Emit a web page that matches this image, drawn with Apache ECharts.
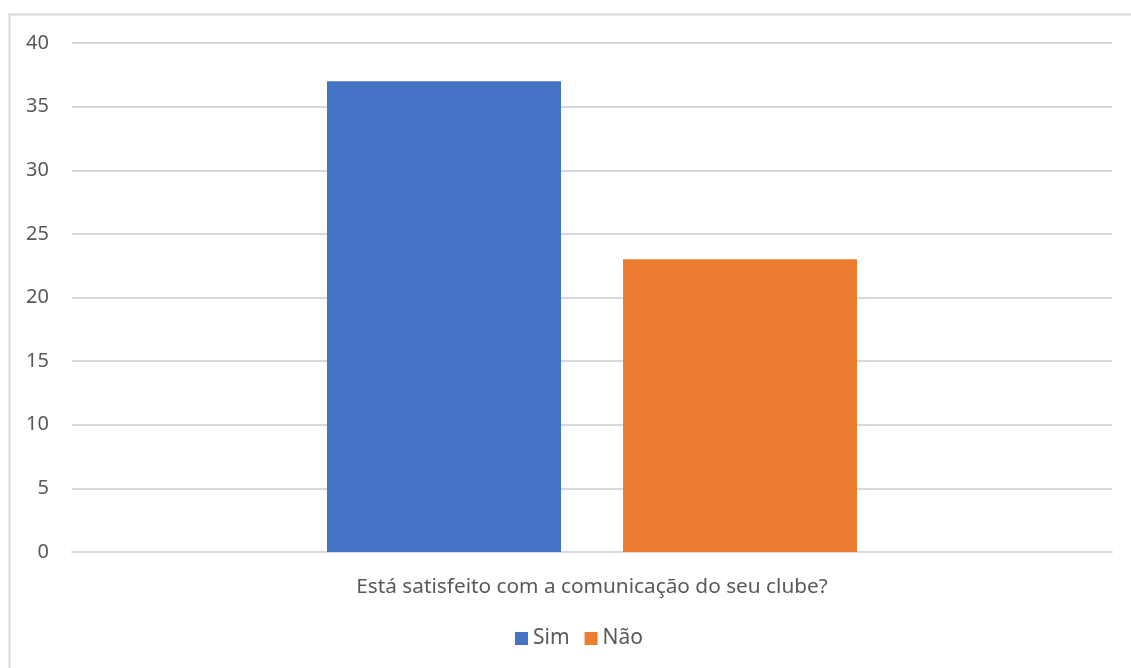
<!DOCTYPE html>
<html>
<head>
<meta charset="utf-8">
<script src="https://cdn.jsdelivr.net/npm/echarts@6/dist/echarts.min.js"></script>
<style>
  html, body { margin: 0; padding: 0; background: #fff; }
  #chart { width: 1131px; height: 668px; }
</style>
</head>
<body>
<div id="chart"></div>
<script>
// Survey question and answer counts
const categories = ['Está satisfeito com a comunicação do seu clube?'];
const simValues = [37];
const naoValues = [23];
const seriesNames = ['Sim', 'Não'];

const textColor = '#595959';
const gridColor = '#d9d9d9';
const font = 'Noto Sans';

const chart = echarts.init(document.getElementById('chart'), null, { renderer: 'canvas' });

chart.setOption({
  backgroundColor: '#ffffff',
  animation: false,
  textStyle: { fontFamily: font },
  graphic: [{
    type: 'rect',
    left: 7,
    top: 12,
    shape: { width: 1140, height: 670 },
    style: { fill: 'none', stroke: gridColor, lineWidth: 2 },
    silent: true
  }],
  grid: { left: 72, right: 19, top: 43, bottom: 116, containLabel: false },
  legend: {
    data: seriesNames,
    bottom: 19,
    left: 515,
    padding: 0,
    icon: 'rect',
    itemWidth: 13,
    itemHeight: 13,
    itemGap: 15,
    textStyle: { color: textColor, fontSize: 21, fontFamily: font, padding: [0, 0, 0, 0] }
  },
  xAxis: {
    type: 'category',
    data: categories,
    axisLine: { show: true, lineStyle: { color: gridColor, width: 2 } },
    axisTick: { show: false },
    axisLabel: { color: textColor, fontSize: 20.8, fontFamily: font, margin: 25 }
  },
  yAxis: {
    type: 'value',
    min: 0,
    max: 40,
    interval: 5,
    axisLine: { show: false },
    axisTick: { show: false },
    axisLabel: { color: textColor, fontSize: 20, fontFamily: font, margin: 23 },
    splitLine: { lineStyle: { color: gridColor, width: 2 } }
  },
  series: [
    {
      name: seriesNames[0],
      type: 'bar',
      data: simValues,
      barWidth: 234,
      barGap: '26.5%',
      itemStyle: { color: '#4472c4' }
    },
    {
      name: seriesNames[1],
      type: 'bar',
      data: naoValues,
      barWidth: 234,
      itemStyle: { color: '#ed7d31' }
    }
  ]
});
</script>
</body>
</html>
